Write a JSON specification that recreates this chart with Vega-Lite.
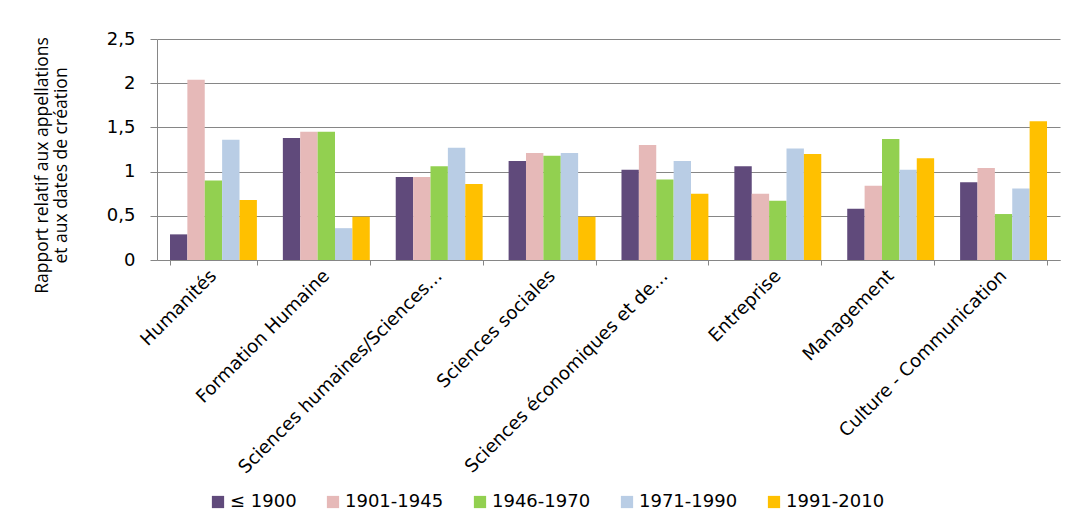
{
  "$schema": "https://vega.github.io/schema/vega-lite/v6.json",
  "width": 903,
  "height": 221,
  "autosize": {"type": "none"},
  "padding": {"left": 157, "top": 39, "right": 11, "bottom": 263},
  "background": "white",
  "config": {
    "font": "DejaVu Sans",
    "view": {"stroke": null},
    "axis": {"labelColor": "#000000", "titleColor": "#000000", "domainColor": "#868686", "tickColor": "#868686", "gridColor": "#868686"}
  },
  "data": {"values": [
    {"cat": "Humanités", "period": "≤ 1900", "v": 0.29},
    {"cat": "Humanités", "period": "1901-1945", "v": 2.04},
    {"cat": "Humanités", "period": "1946-1970", "v": 0.90},
    {"cat": "Humanités", "period": "1971-1990", "v": 1.36},
    {"cat": "Humanités", "period": "1991-2010", "v": 0.68},
    {"cat": "Formation Humaine", "period": "≤ 1900", "v": 1.38},
    {"cat": "Formation Humaine", "period": "1901-1945", "v": 1.45},
    {"cat": "Formation Humaine", "period": "1946-1970", "v": 1.45},
    {"cat": "Formation Humaine", "period": "1971-1990", "v": 0.36},
    {"cat": "Formation Humaine", "period": "1991-2010", "v": 0.49},
    {"cat": "Sciences humaines/Sciences…", "period": "≤ 1900", "v": 0.94},
    {"cat": "Sciences humaines/Sciences…", "period": "1901-1945", "v": 0.94},
    {"cat": "Sciences humaines/Sciences…", "period": "1946-1970", "v": 1.06},
    {"cat": "Sciences humaines/Sciences…", "period": "1971-1990", "v": 1.27},
    {"cat": "Sciences humaines/Sciences…", "period": "1991-2010", "v": 0.86},
    {"cat": "Sciences sociales", "period": "≤ 1900", "v": 1.12},
    {"cat": "Sciences sociales", "period": "1901-1945", "v": 1.21},
    {"cat": "Sciences sociales", "period": "1946-1970", "v": 1.18},
    {"cat": "Sciences sociales", "period": "1971-1990", "v": 1.21},
    {"cat": "Sciences sociales", "period": "1991-2010", "v": 0.49},
    {"cat": "Sciences économiques et de…", "period": "≤ 1900", "v": 1.02},
    {"cat": "Sciences économiques et de…", "period": "1901-1945", "v": 1.30},
    {"cat": "Sciences économiques et de…", "period": "1946-1970", "v": 0.91},
    {"cat": "Sciences économiques et de…", "period": "1971-1990", "v": 1.12},
    {"cat": "Sciences économiques et de…", "period": "1991-2010", "v": 0.75},
    {"cat": "Entreprise", "period": "≤ 1900", "v": 1.06},
    {"cat": "Entreprise", "period": "1901-1945", "v": 0.75},
    {"cat": "Entreprise", "period": "1946-1970", "v": 0.67},
    {"cat": "Entreprise", "period": "1971-1990", "v": 1.26},
    {"cat": "Entreprise", "period": "1991-2010", "v": 1.20},
    {"cat": "Management", "period": "≤ 1900", "v": 0.58},
    {"cat": "Management", "period": "1901-1945", "v": 0.84},
    {"cat": "Management", "period": "1946-1970", "v": 1.37},
    {"cat": "Management", "period": "1971-1990", "v": 1.02},
    {"cat": "Management", "period": "1991-2010", "v": 1.15},
    {"cat": "Culture - Communication", "period": "≤ 1900", "v": 0.88},
    {"cat": "Culture - Communication", "period": "1901-1945", "v": 1.04},
    {"cat": "Culture - Communication", "period": "1946-1970", "v": 0.52},
    {"cat": "Culture - Communication", "period": "1971-1990", "v": 0.81},
    {"cat": "Culture - Communication", "period": "1991-2010", "v": 1.57}
  ]},
  "mark": {"type": "bar"},
  "encoding": {
    "x": {
      "field": "cat",
      "type": "nominal",
      "sort": null,
      "scale": {"paddingInner": 0.23, "paddingOuter": 0.115},
      "axis": {
        "title": null,
        "labelAngle": -45,
        "labelAlign": "right",
        "labelBaseline": "middle",
        "labelFontSize": 18.2,
        "labelPadding": 8,
        "labelLimit": 400,
        "tickBand": "extent",
        "tickSize": 5,
        "domainColor": "#868686"
      }
    },
    "xOffset": {
      "field": "period",
      "type": "nominal",
      "sort": ["≤ 1900", "1901-1945", "1946-1970", "1971-1990", "1991-2010"],
      "scale": {"paddingInner": 0, "paddingOuter": 0}
    },
    "y": {
      "field": "v",
      "type": "quantitative",
      "scale": {"domain": [0, 2.5], "nice": false},
      "axis": {
        "title": ["Rapport relatif aux appellations", "et aux dates de création"],
        "titleFont": "Open Sans",
        "titleFontSize": 17.5,
        "titleFontWeight": "normal",
        "titleLineHeight": 19,
        "titlePadding": 36,
        "titleY": 126,
        "values": [0, 0.5, 1, 1.5, 2, 2.5],
        "format": "~g",
        "labelExpr": "replace(datum.label, '.', ',')",
        "labelFontSize": 18,
        "labelPadding": 15,
        "tickSize": 7,
        "grid": true,
        "gridColor": "#868686",
        "domainColor": "#868686"
      }
    },
    "color": {
      "field": "period",
      "type": "nominal",
      "scale": {
        "domain": ["≤ 1900", "1901-1945", "1946-1970", "1971-1990", "1991-2010"],
        "range": ["#604A7B", "#E6B9B8", "#92D050", "#B9CDE5", "#FFC000"]
      },
      "legend": {
        "title": null,
        "orient": "none",
        "direction": "horizontal",
        "legendX": 52,
        "legendY": 454,
        "symbolType": "square",
        "symbolSize": 150,
        "symbolStrokeWidth": 0,
        "labelFontSize": 18,
        "labelColor": "#000000",
        "labelOffset": 3,
        "columnPadding": 27
      }
    }
  }
}
